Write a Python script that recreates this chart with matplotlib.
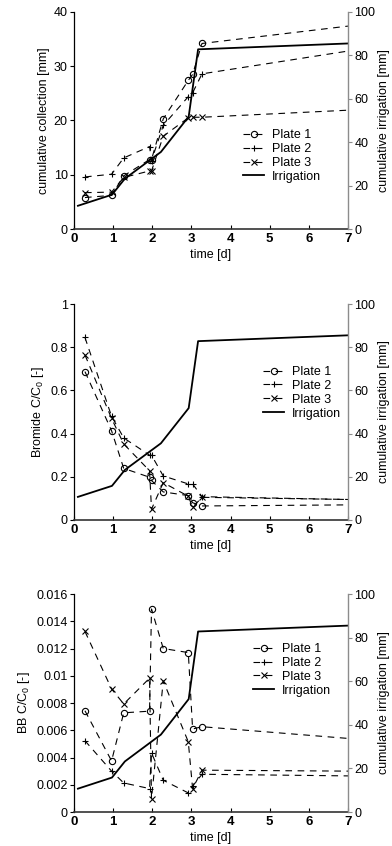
import matplotlib
matplotlib.use("Agg")
import matplotlib.pyplot as plt
from matplotlib.ticker import FuncFormatter

plt.rcParams['font.family'] = ['Liberation Sans', 'DejaVu Sans']
plt.rcParams['mathtext.fontset'] = 'custom'
plt.rcParams['mathtext.rm'] = 'Liberation Sans'
plt.rcParams['mathtext.it'] = 'Liberation Sans'

# ---------------- data ----------------
t_plate = [0.28, 0.96, 1.27, 1.93, 1.98, 2.28, 2.92, 3.03, 3.27, 7.0]

coll_p1 = [5.8, 6.2, 9.8, 12.8, 12.8, 20.3, 27.4, 28.5, 34.2, 37.4]
coll_p2 = [9.6, 10.1, 13.1, 15.2, 12.6, 19.1, 24.4, 25.1, 28.6, 32.8]
coll_p3 = [6.7, 6.8, 9.5, 10.7, 10.7, 17.1, 20.5, 20.6, 20.6, 21.9]

br_p1 = [0.687, 0.413, 0.239, 0.198, 0.183, 0.13, 0.113, 0.08, 0.065, 0.07]
br_p2 = [0.845, 0.48, 0.38, 0.30, 0.30, 0.204, 0.167, 0.167, 0.108, 0.095]
br_p3 = [0.764, 0.47, 0.352, 0.228, 0.05, 0.173, 0.11, 0.059, 0.105, 0.095]

bb_p1 = [0.00743, 0.00375, 0.00728, 0.0074, 0.0149, 0.0120, 0.0117, 0.00609, 0.00626, 0.0054]
bb_p2 = [0.00523, 0.0030, 0.00213, 0.00172, 0.00434, 0.00233, 0.0014, 0.0019, 0.00277, 0.00265]
bb_p3 = [0.01325, 0.00903, 0.00793, 0.00982, 0.00099, 0.00962, 0.00515, 0.00172, 0.00307, 0.0030]

t_irr = [0.1, 0.97, 1.3, 2.22, 2.93, 3.17, 7.0]
irr = [10.7, 15.8, 23.2, 35.5, 51.8, 82.8, 85.5]

x_ticks = [0, 1, 2, 3, 4, 5, 6, 7]
right_ticks = [0, 20, 40, 60, 80, 100]

panels = [
    dict(p=[coll_p1, coll_p2, coll_p3], ylim=(0, 40), yticks=[0, 10, 20, 30, 40],
         ylabel='cumulative collection [mm]', leg=(0.617, 0.46)),
    dict(p=[br_p1, br_p2, br_p3], ylim=(0, 1), yticks=[0, 0.2, 0.4, 0.6, 0.8, 1],
         ylabel=r'Bromide C/C$_\mathregular{0}$ [-]', leg=(0.69, 0.713)),
    dict(p=[bb_p1, bb_p2, bb_p3], ylim=(0, 0.016),
         yticks=[0, 0.002, 0.004, 0.006, 0.008, 0.01, 0.012, 0.014, 0.016],
         ylabel=r'BB C/C$_\mathregular{0}$ [-]', leg=(0.653, 0.775)),
]
labels = ['Plate 1', 'Plate 2', 'Plate 3']
markers = ['o', '+', 'x']

W, H = 392, 846
fig = plt.figure(figsize=(W / 100, H / 100), dpi=100)
boxes = [(12, 229), (304, 520), (594, 812)]
GRAY = '#8c8c8c'
FS = 9

for (top, bot), pn in zip(boxes, panels):
    ax = fig.add_axes([74 / W, 1 - bot / H, 274 / W, (bot - top) / H])
    ax2 = ax.twinx()
    handles = []
    for vals, lab, mk in zip(pn['p'], labels, markers):
        ln, = ax.plot(t_plate, vals, color='black', lw=0.8, ls='--', dashes=(6, 5),
                      marker=mk, ms=4.5, mfc='none', mec='black', mew=0.8,
                      markevery=list(range(len(vals) - 1)), label=lab, clip_on=False)
        handles.append(ln)
    il, = ax2.plot(t_irr, irr, color='black', lw=1.3, label='Irrigation')
    handles.append(il)

    ax.set_xlim(0, 7)
    ax.set_ylim(*pn['ylim'])
    ax2.set_ylim(0, 100)
    ax.set_xticks(x_ticks)
    ax.set_yticks(pn['yticks'])
    ax2.set_yticks(right_ticks)
    ax.yaxis.set_major_formatter(FuncFormatter(lambda v, p: '%g' % round(v, 6)))
    ax.set_xticklabels([str(v) for v in x_ticks], fontweight='bold', fontsize=FS + 0.5)
    ax.tick_params(axis='x', direction='in', length=3, pad=3, width=0.8)
    ax.tick_params(axis='y', direction='out', length=3, labelsize=FS, pad=1.5, width=0.8)
    ax2.tick_params(axis='y', direction='out', length=3, labelsize=FS, pad=1.5,
                    color=GRAY, width=0.8)
    for a in (ax, ax2):
        a.spines['top'].set_visible(False)
    ax.spines['right'].set_visible(False)
    ax2.spines['left'].set_visible(False)
    ax2.spines['bottom'].set_visible(False)
    ax2.spines['right'].set_color(GRAY)
    ax2.spines['right'].set_linewidth(1.0)
    ax.spines['left'].set_linewidth(0.9)
    ax.spines['bottom'].set_linewidth(1.2)
    ax.spines['bottom'].set_color('#333333')
    ax.set_xlabel('time [d]', fontsize=FS, labelpad=2.5)
    ax.set_ylabel(pn['ylabel'], fontsize=FS, labelpad=3)
    ax2.set_ylabel('cumulative irrigation [mm]', fontsize=FS, labelpad=2)
    ax2.legend(handles=handles, loc='upper left', bbox_to_anchor=pn['leg'],
               frameon=False, fontsize=FS, borderpad=0, borderaxespad=0,
               labelspacing=0.15, handlelength=1.7, handletextpad=0.6)

fig.savefig('out.png', dpi=100)
